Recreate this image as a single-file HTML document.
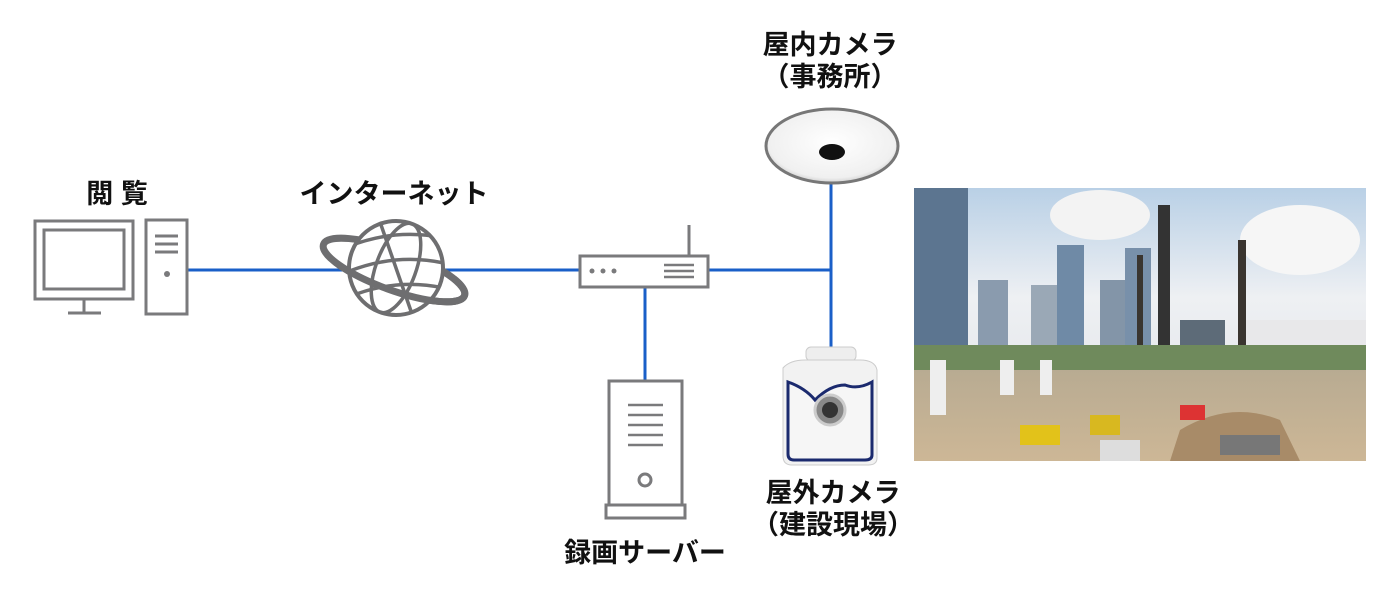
<!DOCTYPE html>
<html><head><meta charset="utf-8"><style>
body{margin:0;background:#fff;width:1400px;height:602px;overflow:hidden}
svg text{font-family:"Liberation Sans","Noto Sans CJK JP",sans-serif;font-weight:bold;fill:#111}
</style></head><body>
<svg width="1400" height="602" viewBox="0 0 1400 602" xmlns="http://www.w3.org/2000/svg">
<defs>
<linearGradient id="sky" x1="0" y1="0" x2="0" y2="1"><stop offset="0" stop-color="#b9d0e6"/><stop offset="0.4" stop-color="#eef0f3"/><stop offset="1" stop-color="#dde1e5"/></linearGradient>
<linearGradient id="gnd" x1="0" y1="0" x2="0" y2="1"><stop offset="0" stop-color="#b8ab92"/><stop offset="1" stop-color="#cdb796"/></linearGradient>
<radialGradient id="dome" cx="0.5" cy="0.45" r="0.6"><stop offset="0" stop-color="#fff"/><stop offset="0.8" stop-color="#f0f0f0"/><stop offset="1" stop-color="#bbb"/></radialGradient>
<clipPath id="gc"><circle cx="396" cy="268" r="47"/></clipPath>
<clipPath id="front"><path d="M300 262 L500 280 L500 330 L300 330 Z"/></clipPath>
</defs>
<g stroke="#1a5fc8" stroke-width="3" fill="none">
<line x1="188" y1="270" x2="831" y2="270"/>
<line x1="645" y1="287" x2="645" y2="380"/>
<line x1="831" y1="178" x2="831" y2="348"/>
</g>
<g stroke="#7a7a7c" stroke-width="3" fill="#fff">
<rect x="35" y="221" width="98" height="78"/>
<rect x="44" y="230" width="80" height="59"/>
<line x1="84" y1="300" x2="84" y2="312"/>
<line x1="68" y1="313" x2="101" y2="313"/>
<rect x="146" y="220" width="41" height="94"/>
<line x1="155" y1="236" x2="178" y2="236"/><line x1="155" y1="244" x2="178" y2="244"/><line x1="155" y1="252" x2="178" y2="252"/>
</g>
<circle cx="167" cy="274" r="3" fill="#7a7a7c"/>
<!-- globe -->
<ellipse cx="394" cy="270" rx="75" ry="20" transform="rotate(20 394 270)" fill="none" stroke="#6e6e70" stroke-width="7"/>
<circle cx="396" cy="268" r="47" fill="#fff" stroke="#6e6e70" stroke-width="4"/>
<g clip-path="url(#gc)" stroke="#6e6e70" stroke-width="3.5" fill="none">
<ellipse cx="396" cy="268" rx="20" ry="47" transform="rotate(20 396 268)"/>
<line x1="380" y1="222" x2="412" y2="314"/>
<path d="M340 250 Q396 225 452 240"/><path d="M340 275 Q396 250 452 265"/><path d="M342 300 Q396 275 452 290"/>
</g>
<g clip-path="url(#front)"><ellipse cx="394" cy="270" rx="75" ry="20" transform="rotate(20 394 270)" fill="none" stroke="#6e6e70" stroke-width="7"/></g>
<!-- router -->
<line x1="689" y1="225" x2="689" y2="256" stroke="#7a7a7c" stroke-width="3"/>
<rect x="580" y="256" width="128" height="31" fill="#fff" stroke="#7a7a7c" stroke-width="3"/>
<g fill="#7a7a7c"><circle cx="592" cy="271" r="2.5"/><circle cx="603" cy="271" r="2.5"/><circle cx="614" cy="271" r="2.5"/></g>
<g stroke="#7a7a7c" stroke-width="2.5"><line x1="664" y1="265" x2="694" y2="265"/><line x1="664" y1="271" x2="694" y2="271"/><line x1="664" y1="277" x2="694" y2="277"/></g>
<g stroke="#7a7a7c" stroke-width="3" fill="#fff">
<rect x="609" y="381" width="73" height="124"/>
<rect x="606" y="505" width="79" height="13"/>
<circle cx="645" cy="480" r="6"/>
</g>
<g stroke="#7a7a7c" stroke-width="2.5"><line x1="628" y1="405" x2="663" y2="405"/><line x1="628" y1="415" x2="663" y2="415"/><line x1="628" y1="425" x2="663" y2="425"/><line x1="628" y1="435" x2="663" y2="435"/><line x1="628" y1="445" x2="663" y2="445"/></g>
<ellipse cx="832" cy="146" rx="66" ry="37" fill="url(#dome)" stroke="#777" stroke-width="3"/>
<ellipse cx="832" cy="152" rx="13" ry="8" fill="#111"/>
<rect x="806" y="347" width="50" height="14" rx="5" fill="#eee" stroke="#ccc"/>
<path d="M783 368 Q790 360 805 360 L860 360 Q875 360 877 370 L877 458 Q877 465 868 465 L792 465 Q783 465 783 456 Z" fill="#f2f2f2" stroke="#ccc"/>
<path d="M788 382 Q805 388 815 400 Q830 385 845 385 Q858 390 872 382 L872 455 Q872 460 865 460 L794 460 Q788 460 788 454 Z" fill="#f6f6f6" stroke="#1b2a6e" stroke-width="3"/>
<circle cx="830" cy="410" r="15" fill="#888" stroke="#ccc" stroke-width="3"/>
<circle cx="830" cy="410" r="8" fill="#333"/>
<!-- photo -->
<rect x="914" y="188" width="452" height="273" fill="url(#sky)"/>
<ellipse cx="1300" cy="240" rx="60" ry="35" fill="#f6f6f6"/>
<ellipse cx="1100" cy="215" rx="50" ry="25" fill="#f3f3f3"/>
<rect x="914" y="188" width="54" height="165" fill="#5c7590"/>
<rect x="978" y="280" width="30" height="80" fill="#8a9bae"/>
<rect x="1031" y="285" width="28" height="75" fill="#9aa8b6"/>
<rect x="1057" y="245" width="27" height="110" fill="#6f8aa6"/>
<rect x="1100" y="280" width="28" height="75" fill="#8395a8"/>
<rect x="1125" y="248" width="26" height="110" fill="#7890aa"/>
<rect x="1180" y="320" width="45" height="35" fill="#5d6b78"/>
<rect x="1240" y="320" width="126" height="40" fill="#e8e8ea"/>
<rect x="1158" y="205" width="12" height="160" fill="#333"/>
<rect x="1238" y="240" width="8" height="170" fill="#3a3530"/>
<rect x="1137" y="255" width="6" height="160" fill="#3a3530"/>
<rect x="914" y="345" width="452" height="30" fill="#6f8a5c"/>
<rect x="914" y="370" width="452" height="91" fill="url(#gnd)"/>
<rect x="930" y="360" width="16" height="55" fill="#eee"/>
<rect x="1000" y="360" width="14" height="35" fill="#eee"/>
<rect x="1040" y="360" width="12" height="35" fill="#eee"/>
<path d="M1180 430 Q1230 400 1280 420 L1300 461 L1170 461 Z" fill="#a88b68"/>
<rect x="1020" y="425" width="40" height="20" fill="#e2c21a"/>
<rect x="1090" y="415" width="30" height="20" fill="#d8b820"/>
<rect x="1180" y="405" width="25" height="15" fill="#d33"/>
<rect x="1220" y="435" width="60" height="20" fill="#777"/>
<rect x="1100" y="440" width="40" height="21" fill="#ddd"/>
<text x="117" y="203" font-size="27" text-anchor="middle">閲 覧</text>
<text x="394" y="203" font-size="27" text-anchor="middle">インターネット</text>
<text x="830" y="54" font-size="27" text-anchor="middle">屋内カメラ</text>
<text x="830" y="86" font-size="27" text-anchor="middle">（事務所）</text>
<text x="833" y="502" font-size="27" text-anchor="middle">屋外カメラ</text>
<text x="833" y="534" font-size="27" text-anchor="middle">（建設現場）</text>
<text x="645" y="562" font-size="27" text-anchor="middle">録画サーバー</text>
</svg>
</body></html>
